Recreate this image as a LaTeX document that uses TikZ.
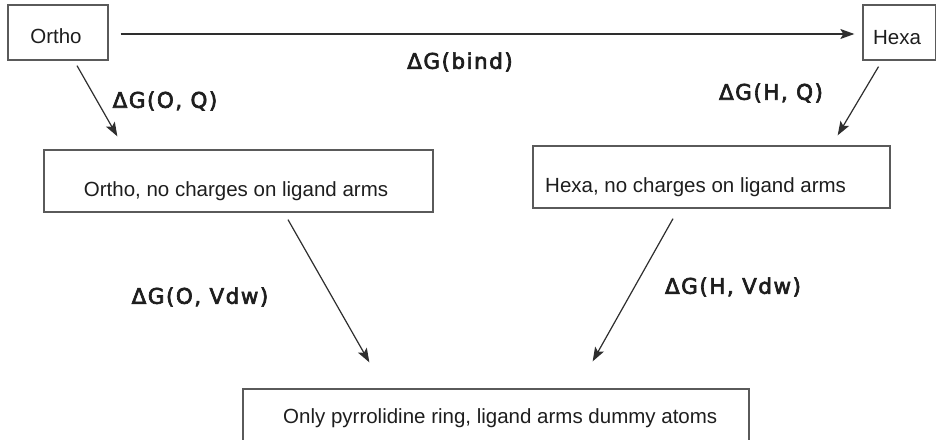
\documentclass[tikz,border=0pt]{standalone}
\usepackage{fontspec}
\setmainfont{Liberation Sans}
\newfontfamily\lblfont[LetterSpace=7,FakeBold=3]{DejaVu Sans}
\usetikzlibrary{arrows.meta}
\definecolor{boxgray}{HTML}{5A5A5A}
\definecolor{linegray}{HTML}{2E2E2E}
\definecolor{txt}{HTML}{1E1E1E}
\begin{document}
\begin{tikzpicture}[x=1pt,y=-1pt,
  box/.style={draw=boxgray,line width=1.3pt,fill=white,inner sep=0pt},
  boxtext/.style={inner sep=0pt,anchor=base,text=txt,font=\fontsize{20.5}{24}\selectfont},
  lbl/.style={inner sep=0pt,text=txt,font=\lblfont\fontsize{21.5}{25}\selectfont},
  arr/.style={draw=linegray,line width=1.2pt,-{Stealth[length=14pt,width=10pt,inset=3pt]}}]
\clip (0,0) rectangle (936,439);
\fill[white] (0,0) rectangle (936,439);
% boxes
\node[box,minimum width=100pt,minimum height=55pt] (ortho) at (58,32.5) {};
\node[box,minimum width=73pt,minimum height=55pt] (hexa) at (899.5,32.5) {};
\node[box,minimum width=389pt,minimum height=62pt] (orthoN) at (238.5,181) {};
\node[box,minimum width=357pt,minimum height=62pt] (hexaN) at (711.5,177) {};
\node[box,minimum width=506pt,minimum height=80pt] (dummy) at (496,429) {};
% box texts
\node[boxtext] (t1) at (56,43) {Ortho};
\node[boxtext] (t2) at (897,44) {Hexa};
\node[boxtext] (t3) at (236,196.5) {Ortho, no charges on ligand arms};
\node[boxtext,anchor=base west] (t4) at (545,192) {Hexa, no charges on ligand arms};
\node[boxtext,anchor=base west] (t5) at (283,423) {Only pyrrolidine ring, ligand arms dummy atoms};
% connectors
\draw[arr] ([shift={(12,1.5)}]ortho.east) -- ([shift={(-8,1.5)}]hexa.west);
\draw[arr] ([shift={(19,5)}]ortho.south) -- ([shift={(74,-13)}]orthoN.north west);
\draw[arr] ([shift={(-21,6)}]hexa.south) -- ([shift={(-53,-10)}]hexaN.north east);
\draw[arr] ([shift={(49.5,7)}]orthoN.south) -- ([shift={(127,-26)}]dummy.north west);
\draw[arr] ([shift={(-38.5,10)}]hexaN.south) -- ([shift={(-157,-27)}]dummy.north east);
% labels
\node[lbl] (lbind) at (460,62) {ΔG(bind)};
\node[lbl] (loq) at (165,101) {ΔG(O, Q)};
\node[lbl] (lhq) at (771,93) {ΔG(H, Q)};
\node[lbl] (lov) at (200,297) {ΔG(O, Vdw)};
\node[lbl] (lhv) at (733,287) {ΔG(H, Vdw)};
\end{tikzpicture}
\end{document}
